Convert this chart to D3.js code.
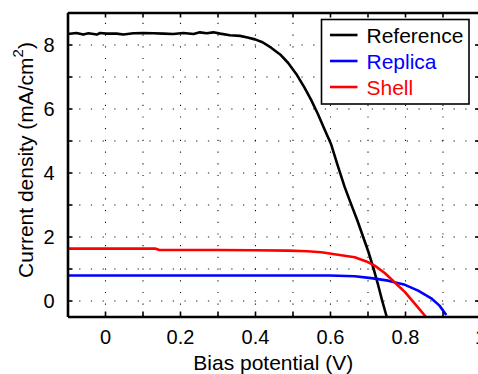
<!DOCTYPE html>
<html>
<head>
<meta charset="utf-8">
<script src="https://cdn.jsdelivr.net/npm/d3@7"></script>
<style>
  html, body { margin: 0; padding: 0; background: #fff; }
  svg { display: block; font-family: "Liberation Sans", Arial, Helvetica, sans-serif; }
</style>
</head>
<body>
<svg id="chart" width="478" height="374"></svg>
<script>
// J–V curves: bias potential (V) against current density (mA/cm^2)
const refV = [-0.1, -0.076, -0.058, -0.044, -0.022, -0.013, 0.004, 0.031, 0.049, 0.076, 0.102, 0.129,
              0.156, 0.182, 0.209, 0.236, 0.253, 0.271, 0.289, 0.307, 0.333, 0.36, 0.38, 0.40, 0.42,
              0.443, 0.467, 0.488, 0.51, 0.532, 0.55, 0.568, 0.585, 0.603, 0.62, 0.639, 0.656, 0.673,
              0.688, 0.703, 0.716, 0.728, 0.739, 0.751];
const refJ = [8.33, 8.36, 8.31, 8.35, 8.31, 8.36, 8.34, 8.34, 8.31, 8.35, 8.36, 8.35,
              8.34, 8.33, 8.36, 8.33, 8.38, 8.35, 8.38, 8.34, 8.29, 8.27, 8.22, 8.16, 8.07,
              7.9, 7.69, 7.43, 7.08, 6.65, 6.26, 5.82, 5.36, 4.88, 4.24, 3.55, 3.02, 2.5,
              2.0, 1.5, 1.0, 0.5, 0.0, -0.5];

const repV = [-0.1, 0.2, 0.5, 0.6, 0.666, 0.71, 0.755, 0.8, 0.835, 0.87, 0.892, 0.91];
const repJ = [0.78, 0.78, 0.78, 0.78, 0.76, 0.7, 0.62, 0.49, 0.31, 0.07, -0.16, -0.45];

const shellV = [-0.1, 0.135, 0.145, 0.3, 0.4, 0.488, 0.54, 0.577, 0.621, 0.666, 0.697, 0.719,
                0.746, 0.772, 0.8, 0.826, 0.855];
const shellJ = [1.62, 1.62, 1.58, 1.58, 1.57, 1.56, 1.54, 1.51, 1.43, 1.35, 1.22, 1.09,
                0.86, 0.57, 0.26, -0.1, -0.5];

const seriesNames = ["Reference", "Replica", "Shell"];
const seriesColors = ["#000000", "#0000ff", "#ff0000"];

const xTicks = [-0.1, 0, 0.1, 0.2, 0.3, 0.4, 0.5, 0.6, 0.7, 0.8, 0.9, 1.0];
const xLabelled = [0, 0.2, 0.4, 0.6, 0.8, 1.0];
const xGrid = [0, 0.1, 0.2, 0.3, 0.4, 0.5, 0.6, 0.7, 0.8, 0.9];
const yTicks = [0, 1, 2, 3, 4, 5, 6, 7, 8];
const yLabelled = [0, 2, 4, 6, 8];

const xTitle = "Bias potential (V)";
const yTitle = "Current density (mA/cm";

// layout
const plotLeft = 67.5, plotRight = 480, plotTop = 12.5, plotBottom = 316.5;
const x = d3.scaleLinear().domain([-0.1, 1.0]).range([plotLeft, plotRight]);
const y = d3.scaleLinear().domain([-0.5, 9]).range([plotBottom, plotTop]);

const svg = d3.select("#chart");

svg.append("defs").append("clipPath").attr("id", "plotClip")
  .append("rect").attr("x", plotLeft).attr("y", plotTop)
  .attr("width", plotRight - plotLeft).attr("height", plotBottom - plotTop);

// dotted grid
const gridStyle = g => {
  g.select(".domain").remove();
  g.selectAll("line")
    .attr("stroke", "#111")
    .attr("stroke-width", 1.1)
    .attr("stroke-dasharray", "1.2,10.5");
};
svg.append("g")
  .attr("transform", `translate(0,${plotBottom})`)
  .call(d3.axisBottom(x).tickValues(xGrid).tickSize(-(plotBottom - plotTop)).tickFormat(""))
  .call(gridStyle);
svg.append("g")
  .attr("transform", `translate(${plotLeft},0)`)
  .call(d3.axisLeft(y).tickValues(yTicks).tickSize(-(plotRight - plotLeft)).tickFormat(""))
  .call(gridStyle);

// curves
const line = d3.line().x(d => x(d[0])).y(d => y(d[1]));
const series = [
  d3.zip(refV, refJ),
  d3.zip(repV, repJ),
  d3.zip(shellV, shellJ)
];
const plot = svg.append("g").attr("clip-path", "url(#plotClip)");
series.forEach((pts, i) => {
  plot.append("path")
    .datum(pts)
    .attr("fill", "none")
    .attr("stroke", seriesColors[i])
    .attr("stroke-width", 2.6)
    .attr("stroke-linejoin", "round")
    .attr("d", line);
});

// axes box with inward ticks
const fmt = d => (xLabelled.some(v => Math.abs(v - d) < 1e-9) ? d3.format("~g")(d) : "");
const fmtY = d => (yLabelled.includes(d) ? String(d) : "");

const axisStyle = (g) => {
  g.select(".domain").attr("stroke", "#000").attr("stroke-width", 2.6);
  g.selectAll(".tick line").attr("stroke", "#000").attr("stroke-width", 1.6);
  g.selectAll(".tick text")
    .attr("fill", "#000")
    .attr("font-size", 20)
    .attr("font-family", "'Liberation Sans', Arial, Helvetica, sans-serif");
};

svg.append("g")
  .attr("transform", `translate(0,${plotBottom})`)
  .call(d3.axisBottom(x).tickValues(xTicks).tickSizeInner(-5).tickSizeOuter(0)
        .tickPadding(13).tickFormat(fmt))
  .call(axisStyle);
svg.append("g")
  .attr("transform", `translate(0,${plotTop})`)
  .call(d3.axisTop(x).tickValues(xTicks).tickSizeInner(-5).tickSizeOuter(0).tickFormat(""))
  .call(axisStyle);
svg.append("g")
  .attr("transform", `translate(${plotLeft},0)`)
  .call(d3.axisLeft(y).tickValues(yTicks).tickSizeInner(-5).tickSizeOuter(0)
        .tickPadding(13).tickFormat(fmtY))
  .call(axisStyle)
  .selectAll(".tick text").attr("dy", "0.36em");
svg.append("g")
  .attr("transform", `translate(${plotRight},0)`)
  .call(d3.axisRight(y).tickValues(yTicks).tickSizeInner(-5).tickSizeOuter(0).tickFormat(""))
  .call(axisStyle);

// axis titles
svg.append("text")
  .attr("x", (plotLeft + plotRight) / 2 - 0.5)
  .attr("y", 369.5)
  .attr("text-anchor", "middle")
  .attr("font-size", 21)
  .attr("fill", "#000")
  .text(xTitle);

const yt = svg.append("text")
  .attr("transform", "translate(32.5,160) rotate(-90)")
  .attr("text-anchor", "middle")
  .attr("font-size", 21)
  .attr("fill", "#000");
yt.append("tspan").text(yTitle);
yt.append("tspan").attr("font-size", 15).attr("dy", -10).text("2");
yt.append("tspan").attr("dy", 10).text(")");

// legend
const legend = svg.append("g");
legend.append("rect")
  .attr("x", 321.5).attr("y", 19.5)
  .attr("width", 147.5).attr("height", 84.5)
  .attr("fill", "#fff")
  .attr("stroke", "#000")
  .attr("stroke-width", 1.6);
const rowY = [35, 61, 87];
seriesNames.forEach((name, i) => {
  legend.append("line")
    .attr("x1", 330).attr("x2", 357.5)
    .attr("y1", rowY[i]).attr("y2", rowY[i])
    .attr("stroke", seriesColors[i])
    .attr("stroke-width", 2.6);
  legend.append("text")
    .attr("x", 366.5).attr("y", rowY[i])
    .attr("dy", "0.36em")
    .attr("font-size", 21)
    .attr("fill", seriesColors[i])
    .text(name);
});
</script>
</body>
</html>
